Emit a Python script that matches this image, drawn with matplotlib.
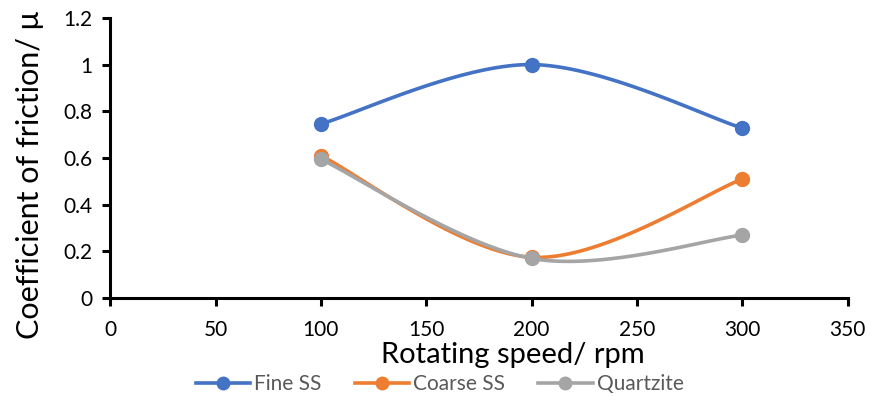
import matplotlib
matplotlib.use('Agg')
import matplotlib.pyplot as plt
from matplotlib.lines import Line2D
import numpy as np

plt.rcParams['font.family'] = ['Lato', 'DejaVu Sans']

# rotating speed (rpm) and friction coefficient per sand type
speed = [100, 200, 300]
fine_ss = [0.746, 1.0, 0.728]
coarse_ss = [0.61, 0.175, 0.51]
quartzite = [0.595, 0.17, 0.27]

series = [
    ('Fine SS', fine_ss, '#4472C4'),
    ('Coarse SS', coarse_ss, '#ED7D31'),
    ('Quartzite', quartzite, '#A5A5A5'),
]


def smooth(xs, ys, n=60):
    # cubic bezier through the points, control points from neighbours (1/6)
    p = np.column_stack([xs, ys]).astype(float)
    ext = np.vstack([p[0], p, p[-1]])
    out = []
    t = np.linspace(0, 1, n)[:, None]
    for i in range(len(p) - 1):
        p0, p1 = p[i], p[i + 1]
        c1 = p0 + (ext[i + 2] - ext[i]) / 6
        c2 = p1 - (ext[i + 3] - ext[i + 1]) / 6
        seg = ((1 - t) ** 3 * p0 + 3 * (1 - t) ** 2 * t * c1
               + 3 * (1 - t) * t ** 2 * c2 + t ** 3 * p1)
        out.append(seg)
    out = np.vstack(out)
    return out[:, 0], out[:, 1]


fig = plt.figure(figsize=(8.74, 3.97), dpi=100)
ax = fig.add_axes([0.126, 0.249, 0.844, 0.706])

handles = []
for name, vals, col in series:
    sx, sy = smooth(speed, vals)
    ax.plot(sx, sy, color=col, lw=2.6, solid_capstyle='round')
    ax.plot(speed, vals, 'o', color=col, ms=10, mec=col)
    handles.append(Line2D([], [], color=col, lw=2.6, marker='o', ms=9,
                          label=name))

ax.set_xlim(0, 350)
ax.set_ylim(0, 1.2)
ax.set_xticks(np.arange(0, 351, 50))
ax.set_yticks(np.arange(0, 1.21, 0.2))
ax.set_yticklabels(['0', '0.2', '0.4', '0.6', '0.8', '1', '1.2'])

for s in ['top', 'right']:
    ax.spines[s].set_visible(False)
for s in ['left', 'bottom']:
    ax.spines[s].set_linewidth(2.2)
    ax.spines[s].set_color('black')
ax.tick_params(direction='out', length=6, width=2.2, labelsize=15)
ax.tick_params(axis='x', pad=10)
ax.tick_params(axis='y', pad=7)

fig.text(0.034, 0.559, 'Coefficient of friction/ μ', rotation=90,
         ha='center', va='center', fontsize=22)
fig.text(0.587, 0.106, 'Rotating speed/ rpm', ha='center', va='center',
         fontsize=21)

leg = fig.legend(handles=handles, loc='center', bbox_to_anchor=(0.503, 0.033),
                 ncol=3, frameon=False, fontsize=15, handlelength=2.6,
                 columnspacing=1.6, handletextpad=0.2, numpoints=1)
for txt in leg.get_texts():
    txt.set_color('#595959')

fig.savefig('out.png', dpi=100)
